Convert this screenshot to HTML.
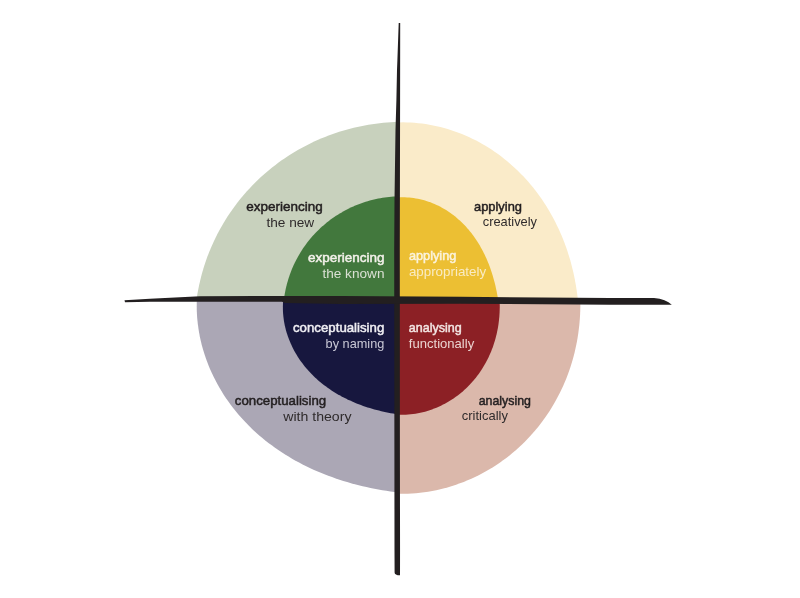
<!DOCTYPE html>
<html><head><meta charset="utf-8"><style>
html,body{margin:0;padding:0;background:#fff;width:800px;height:598px;overflow:hidden}
svg{display:block;will-change:transform}
text{font-family:"Liberation Sans",sans-serif;font-size:13.5px}
</style></head><body>
<svg width="800" height="598" viewBox="0 0 800 598">
<rect width="800" height="598" fill="#fff"/>
<defs><clipPath id="ctl"><rect x="0" y="0" width="397" height="300"/></clipPath><clipPath id="ctr"><rect x="397" y="0" width="403" height="300"/></clipPath><clipPath id="cbl"><rect x="0" y="300" width="397" height="298"/></clipPath><clipPath id="cbr"><rect x="397" y="300" width="403" height="298"/></clipPath></defs><path d="M397.0,300.0 L195.34,310.09 L195.77,305.81 L196.29,301.55 L196.89,297.31 L197.57,293.10 L198.35,288.91 L199.20,284.76 L200.14,280.64 L201.16,276.55 L202.26,272.49 L203.43,268.47 L204.69,264.48 L206.02,260.53 L207.43,256.62 L208.91,252.76 L210.47,248.93 L212.10,245.15 L213.80,241.41 L215.56,237.71 L217.40,234.07 L219.30,230.47 L221.27,226.91 L223.30,223.41 L225.40,219.96 L227.56,216.56 L229.78,213.21 L232.06,209.92 L234.39,206.67 L236.78,203.49 L239.23,200.35 L241.73,197.28 L244.28,194.26 L246.89,191.29 L249.55,188.39 L252.25,185.54 L255.00,182.75 L257.80,180.02 L260.64,177.35 L263.53,174.74 L266.45,172.19 L269.42,169.70 L272.43,167.27 L275.48,164.90 L278.57,162.60 L281.69,160.35 L284.85,158.17 L288.04,156.05 L291.27,154.00 L294.52,152.00 L297.81,150.07 L301.13,148.20 L304.47,146.40 L307.84,144.66 L311.24,142.98 L314.67,141.37 L318.12,139.82 L321.59,138.33 L325.09,136.90 L328.60,135.54 L332.14,134.25 L335.70,133.02 L339.27,131.85 L342.87,130.74 L346.48,129.70 L350.11,128.72 L353.75,127.81 L357.40,126.95 L361.08,126.17 L364.76,125.44 L368.46,124.78 L372.16,124.19 L375.88,123.65 L379.61,123.18 L383.35,122.78 L387.09,122.43 L390.84,122.16 L394.61,121.94 L398.37,121.79 L402.15,121.70 L405.92,121.67 Z" fill="#c8d1bd" clip-path="url(#ctl)"/>
<path d="M397.0,300.0 L388.15,123.10 L391.89,122.77 L395.63,122.55 L399.39,122.41 L403.15,122.37 L406.91,122.43 L410.67,122.58 L414.43,122.82 L418.18,123.15 L421.92,123.57 L425.66,124.09 L429.38,124.70 L433.08,125.39 L436.77,126.18 L440.44,127.05 L444.09,128.00 L447.71,129.05 L451.31,130.17 L454.88,131.38 L458.43,132.68 L461.94,134.05 L465.41,135.50 L468.86,137.03 L472.26,138.64 L475.63,140.32 L478.96,142.08 L482.25,143.91 L485.50,145.81 L488.70,147.78 L491.86,149.82 L494.97,151.92 L498.03,154.09 L501.04,156.33 L504.01,158.63 L506.93,160.99 L509.79,163.40 L512.60,165.88 L515.36,168.41 L518.06,171.00 L520.71,173.64 L523.31,176.33 L525.85,179.08 L528.33,181.87 L530.76,184.71 L533.12,187.60 L535.44,190.53 L537.69,193.51 L539.88,196.53 L542.02,199.59 L544.09,202.68 L546.11,205.82 L548.07,209.00 L549.97,212.21 L551.80,215.45 L553.58,218.73 L555.30,222.05 L556.96,225.39 L558.56,228.76 L560.10,232.17 L561.58,235.60 L562.99,239.06 L564.35,242.55 L565.65,246.06 L566.89,249.60 L568.07,253.16 L569.19,256.75 L570.26,260.36 L571.26,263.99 L572.20,267.64 L573.09,271.31 L573.91,275.01 L574.68,278.72 L575.38,282.45 L576.03,286.21 L576.62,289.98 L577.15,293.76 L577.62,297.57 L578.04,301.39 L578.39,305.23 L578.69,309.09 Z" fill="#faebc9" clip-path="url(#ctr)"/>
<path d="M397.0,300.0 L406.68,493.36 L402.57,492.94 L398.48,492.47 L394.42,491.95 L390.38,491.39 L386.35,490.78 L382.35,490.13 L378.37,489.42 L374.40,488.68 L370.46,487.88 L366.53,487.03 L362.62,486.14 L358.73,485.19 L354.85,484.20 L351.00,483.15 L347.16,482.05 L343.34,480.89 L339.53,479.68 L335.75,478.42 L331.98,477.10 L328.24,475.73 L324.51,474.29 L320.81,472.80 L317.12,471.25 L313.46,469.64 L309.83,467.97 L306.21,466.23 L302.63,464.44 L299.06,462.58 L295.53,460.65 L292.03,458.67 L288.56,456.61 L285.12,454.49 L281.71,452.31 L278.34,450.06 L275.01,447.74 L271.71,445.36 L268.46,442.90 L265.25,440.38 L262.09,437.80 L258.97,435.14 L255.90,432.42 L252.88,429.63 L249.92,426.77 L247.01,423.85 L244.16,420.86 L241.37,417.81 L238.64,414.68 L235.97,411.50 L233.38,408.25 L230.85,404.94 L228.39,401.57 L226.01,398.14 L223.70,394.65 L221.47,391.10 L219.33,387.49 L217.26,383.83 L215.29,380.12 L213.40,376.36 L211.60,372.55 L209.89,368.69 L208.28,364.79 L206.76,360.84 L205.34,356.86 L204.03,352.83 L202.82,348.78 L201.71,344.69 L200.70,340.57 L199.81,336.42 L199.03,332.25 L198.36,328.06 L197.80,323.86 L197.35,319.64 L197.02,315.41 L196.81,311.17 L196.72,306.93 L196.75,302.69 L196.89,298.46 L197.16,294.23 L197.55,290.02 Z" fill="#aba7b5" clip-path="url(#cbl)"/>
<path d="M397.0,300.0 L579.92,290.85 L580.13,294.72 L580.27,298.59 L580.34,302.47 L580.34,306.35 L580.26,310.23 L580.11,314.11 L579.89,317.99 L579.60,321.87 L579.23,325.74 L578.78,329.61 L578.26,333.48 L577.67,337.34 L577.00,341.19 L576.25,345.03 L575.43,348.85 L574.54,352.67 L573.56,356.47 L572.51,360.25 L571.38,364.02 L570.18,367.77 L568.90,371.49 L567.54,375.20 L566.11,378.88 L564.60,382.53 L563.01,386.16 L561.35,389.76 L559.61,393.33 L557.79,396.86 L555.90,400.36 L553.93,403.82 L551.89,407.25 L549.77,410.64 L547.58,413.98 L545.32,417.28 L542.98,420.54 L540.57,423.75 L538.09,426.91 L535.54,430.01 L532.91,433.07 L530.22,436.07 L527.46,439.02 L524.64,441.90 L521.75,444.73 L518.79,447.50 L515.77,450.20 L512.68,452.83 L509.54,455.40 L506.34,457.90 L503.07,460.33 L499.75,462.69 L496.38,464.97 L492.95,467.17 L489.46,469.30 L485.93,471.35 L482.35,473.32 L478.72,475.21 L475.05,477.01 L471.33,478.73 L467.58,480.36 L463.78,481.91 L459.95,483.36 L456.08,484.73 L452.18,486.00 L448.25,487.18 L444.29,488.27 L440.31,489.26 L436.30,490.16 L432.27,490.96 L428.22,491.66 L424.16,492.26 L420.09,492.77 L416.00,493.17 L411.91,493.47 L407.81,493.68 L403.71,493.78 L399.61,493.78 L395.51,493.68 L391.42,493.47 L387.33,493.17 Z" fill="#dbb8ab" clip-path="url(#cbr)"/>
<path d="M397.0,300.0 L283.30,305.69 L283.50,303.28 L283.74,300.87 L284.04,298.48 L284.39,296.10 L284.78,293.74 L285.22,291.39 L285.70,289.05 L286.23,286.73 L286.80,284.43 L287.42,282.15 L288.09,279.88 L288.79,277.64 L289.54,275.41 L290.33,273.21 L291.17,271.02 L292.04,268.86 L292.96,266.73 L293.91,264.61 L294.91,262.52 L295.94,260.45 L297.01,258.41 L298.12,256.40 L299.26,254.41 L300.44,252.45 L301.66,250.52 L302.91,248.61 L304.20,246.74 L305.51,244.89 L306.87,243.07 L308.25,241.28 L309.67,239.53 L311.11,237.80 L312.59,236.10 L314.09,234.44 L315.63,232.81 L317.19,231.21 L318.78,229.64 L320.40,228.11 L322.04,226.61 L323.71,225.14 L325.40,223.71 L327.12,222.31 L328.86,220.94 L330.62,219.62 L332.41,218.32 L334.22,217.06 L336.05,215.84 L337.90,214.65 L339.77,213.49 L341.66,212.38 L343.57,211.30 L345.49,210.25 L347.43,209.24 L349.39,208.27 L351.37,207.34 L353.36,206.44 L355.37,205.58 L357.39,204.76 L359.42,203.97 L361.47,203.22 L363.53,202.51 L365.61,201.84 L367.69,201.20 L369.79,200.60 L371.89,200.04 L374.01,199.52 L376.13,199.03 L378.27,198.59 L380.41,198.18 L382.56,197.81 L384.72,197.48 L386.89,197.19 L389.06,196.93 L391.24,196.71 L393.42,196.54 L395.61,196.40 L397.80,196.30 L399.99,196.24 L402.19,196.21 Z" fill="#42783d" clip-path="url(#ctl)"/>
<path d="M397.0,300.0 L391.90,198.18 L394.05,197.88 L396.21,197.63 L398.38,197.46 L400.55,197.35 L402.73,197.30 L404.91,197.32 L407.09,197.41 L409.27,197.56 L411.44,197.77 L413.61,198.05 L415.77,198.38 L417.92,198.78 L420.06,199.23 L422.18,199.75 L424.29,200.32 L426.38,200.95 L428.46,201.63 L430.51,202.37 L432.55,203.17 L434.56,204.01 L436.55,204.90 L438.51,205.85 L440.45,206.84 L442.36,207.88 L444.25,208.96 L446.10,210.09 L447.93,211.27 L449.72,212.48 L451.49,213.73 L453.22,215.03 L454.92,216.36 L456.58,217.73 L458.22,219.13 L459.81,220.56 L461.38,222.03 L462.91,223.53 L464.41,225.06 L465.87,226.62 L467.29,228.20 L468.69,229.81 L470.04,231.45 L471.36,233.11 L472.65,234.79 L473.90,236.50 L475.12,238.23 L476.30,239.97 L477.45,241.74 L478.57,243.52 L479.65,245.32 L480.70,247.14 L481.72,248.97 L482.70,250.81 L483.65,252.67 L484.57,254.55 L485.46,256.44 L486.32,258.34 L487.16,260.25 L487.96,262.17 L488.73,264.11 L489.47,266.05 L490.19,268.01 L490.88,269.98 L491.54,271.95 L492.18,273.94 L492.79,275.94 L493.38,277.95 L493.94,279.97 L494.48,282.00 L494.99,284.04 L495.48,286.09 L495.95,288.15 L496.40,290.22 L496.82,292.31 L497.22,294.41 L497.60,296.52 L497.96,298.64 L498.30,300.78 L498.62,302.93 L498.92,305.10 Z" fill="#ecbf33" clip-path="url(#ctr)"/>
<path d="M397.0,300.0 L402.76,415.03 L400.31,414.71 L397.88,414.35 L395.47,413.98 L393.07,413.57 L390.69,413.15 L388.32,412.69 L385.96,412.21 L383.62,411.70 L381.29,411.17 L378.98,410.61 L376.68,410.02 L374.39,409.40 L372.11,408.76 L369.85,408.08 L367.60,407.38 L365.36,406.64 L363.14,405.88 L360.93,405.08 L358.73,404.26 L356.54,403.40 L354.37,402.51 L352.21,401.58 L350.07,400.62 L347.94,399.63 L345.82,398.61 L343.73,397.54 L341.65,396.45 L339.58,395.31 L337.54,394.15 L335.51,392.94 L333.51,391.70 L331.52,390.42 L329.56,389.10 L327.62,387.74 L325.70,386.35 L323.81,384.92 L321.94,383.45 L320.10,381.94 L318.29,380.40 L316.50,378.81 L314.75,377.19 L313.03,375.53 L311.35,373.83 L309.69,372.09 L308.08,370.32 L306.50,368.50 L304.96,366.66 L303.46,364.77 L302.00,362.85 L300.58,360.90 L299.21,358.91 L297.88,356.89 L296.60,354.83 L295.37,352.74 L294.19,350.63 L293.06,348.48 L291.98,346.31 L290.96,344.10 L289.99,341.87 L289.08,339.62 L288.22,337.34 L287.43,335.04 L286.69,332.72 L286.02,330.39 L285.41,328.03 L284.86,325.66 L284.38,323.27 L283.96,320.88 L283.61,318.47 L283.33,316.06 L283.12,313.64 L282.97,311.22 L282.90,308.79 L282.90,306.37 L282.96,303.95 L283.10,301.53 L283.31,299.12 L283.60,296.73 L283.95,294.34 Z" fill="#17173e" clip-path="url(#cbl)"/>
<path d="M397.0,300.0 L499.25,294.88 L499.42,297.04 L499.55,299.21 L499.65,301.38 L499.71,303.55 L499.74,305.73 L499.73,307.92 L499.68,310.10 L499.60,312.29 L499.48,314.48 L499.32,316.67 L499.12,318.86 L498.88,321.06 L498.60,323.25 L498.29,325.44 L497.93,327.63 L497.52,329.82 L497.08,332.01 L496.60,334.19 L496.07,336.37 L495.50,338.54 L494.88,340.71 L494.22,342.87 L493.52,345.02 L492.77,347.16 L491.97,349.29 L491.13,351.41 L490.25,353.52 L489.32,355.61 L488.34,357.69 L487.32,359.76 L486.25,361.80 L485.14,363.83 L483.98,365.84 L482.77,367.82 L481.52,369.79 L480.22,371.73 L478.88,373.65 L477.49,375.54 L476.05,377.40 L474.57,379.23 L473.05,381.03 L471.48,382.81 L469.87,384.54 L468.22,386.25 L466.52,387.91 L464.78,389.54 L463.00,391.13 L461.18,392.69 L459.32,394.19 L457.42,395.66 L455.48,397.08 L453.51,398.46 L451.50,399.79 L449.46,401.07 L447.38,402.30 L445.27,403.48 L443.13,404.61 L440.95,405.69 L438.75,406.71 L436.53,407.67 L434.27,408.58 L432.00,409.43 L429.70,410.22 L427.38,410.95 L425.04,411.63 L422.68,412.23 L420.31,412.78 L417.92,413.26 L415.52,413.68 L413.11,414.04 L410.69,414.32 L408.27,414.55 L405.84,414.70 L403.41,414.79 L400.97,414.81 L398.54,414.76 L396.12,414.65 L393.70,414.46 L391.28,414.21 Z" fill="#8c2025" clip-path="url(#cbr)"/>
<path d="M398.7,23 L400.2,23 L400.1,100 L399.8,250 L399.9,450 L400.05,550 L400,575.2 Q394.6,575.2 394.6,572.4 L394.5,550 L394.4,450 L394.2,250 L394.5,200 L395.5,130 L396.4,100 L397,70 L397.4,60 Z" fill="#231f20"/>
<path d="M124.5,300.2 L150,298.75 L190,296.75 L200,296.2 L280,296.0 L340,296.0 L460,296.75 L610,298 L654,298 Q666,299 671.8,304.8 L610,304.7 L460,303.75 L340,303.9 L285,303 L282,301.75 L200,301.75 L150,301.75 L125,302.2 Z" fill="#231f20"/>
<text x="322.7" y="210.75" text-anchor="end" fill="#231f20" stroke="#231f20" stroke-width="0.5" textLength="76.5" lengthAdjust="spacingAndGlyphs">experiencing</text>
<text x="314.2" y="226.7" text-anchor="end" fill="#2f2b2c" textLength="47.8" lengthAdjust="spacingAndGlyphs">the new</text>
<text x="384.5" y="261.6" text-anchor="end" fill="#f3f1ea" stroke="#f3f1ea" stroke-width="0.5" textLength="76.5" lengthAdjust="spacingAndGlyphs">experiencing</text>
<text x="384.5" y="277.5" text-anchor="end" fill="#d9e0d3" textLength="62.1" lengthAdjust="spacingAndGlyphs">the known</text>
<text x="474" y="210.5" text-anchor="start" fill="#231f20" stroke="#231f20" stroke-width="0.5" textLength="48" lengthAdjust="spacingAndGlyphs">applying</text>
<text x="482.8" y="226.4" text-anchor="start" fill="#2f2b2c" textLength="54.2" lengthAdjust="spacingAndGlyphs">creatively</text>
<text x="408.9" y="259.6" text-anchor="start" fill="#fbf3dc" stroke="#fbf3dc" stroke-width="0.5" textLength="47.5" lengthAdjust="spacingAndGlyphs">applying</text>
<text x="408.9" y="275.5" text-anchor="start" fill="#f9ebc4" textLength="77.2" lengthAdjust="spacingAndGlyphs">appropriately</text>
<text x="384.3" y="331.9" text-anchor="end" fill="#efeef3" stroke="#efeef3" stroke-width="0.5" textLength="91.3" lengthAdjust="spacingAndGlyphs">conceptualising</text>
<text x="384.3" y="347.8" text-anchor="end" fill="#c9c8d6" textLength="58.7" lengthAdjust="spacingAndGlyphs">by naming</text>
<text x="408.8" y="331.6" text-anchor="start" fill="#f3e5e3" stroke="#f3e5e3" stroke-width="0.5" textLength="52.8" lengthAdjust="spacingAndGlyphs">analysing</text>
<text x="408.8" y="347.5" text-anchor="start" fill="#ebd3d0" textLength="65.4" lengthAdjust="spacingAndGlyphs">functionally</text>
<text x="326.2" y="404.5" text-anchor="end" fill="#231f20" stroke="#231f20" stroke-width="0.5" textLength="91.4" lengthAdjust="spacingAndGlyphs">conceptualising</text>
<text x="351.5" y="420.5" text-anchor="end" fill="#2f2b2c" textLength="68.3" lengthAdjust="spacingAndGlyphs">with theory</text>
<text x="531" y="404.5" text-anchor="end" fill="#231f20" stroke="#231f20" stroke-width="0.5" textLength="52.3" lengthAdjust="spacingAndGlyphs">analysing</text>
<text x="461.8" y="420.4" text-anchor="start" fill="#2f2b2c" textLength="46.1" lengthAdjust="spacingAndGlyphs">critically</text>
</svg>
</body></html>
